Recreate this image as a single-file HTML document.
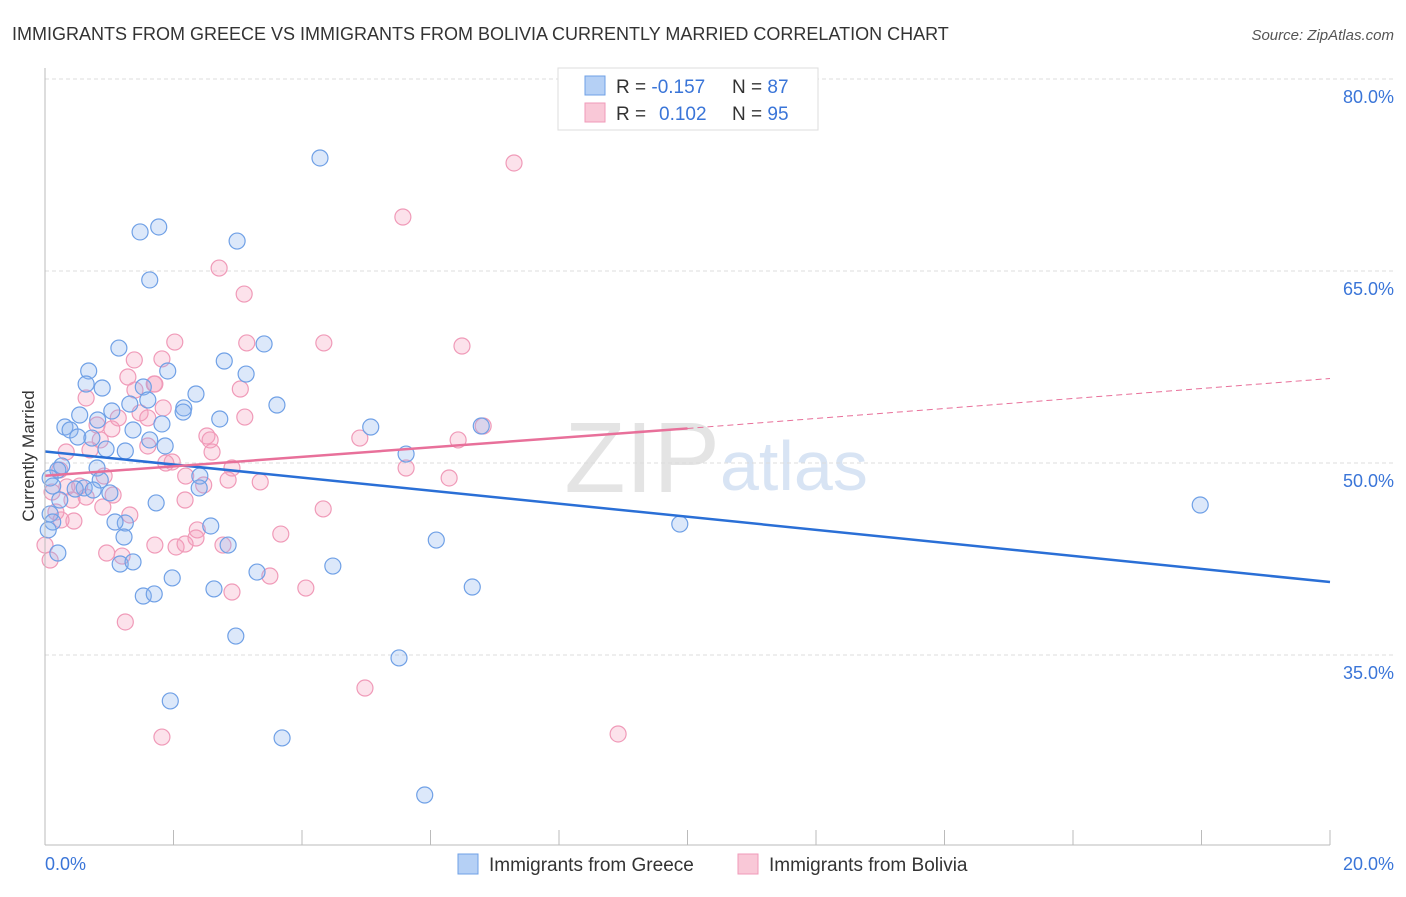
<!DOCTYPE html>
<html><head><meta charset="utf-8"><style>
body{margin:0;background:#fff;font-family:"Liberation Sans",sans-serif;}
svg text{font-family:"Liberation Sans",sans-serif;}
</style></head><body>
<svg id="c" width="1406" height="892" xmlns="http://www.w3.org/2000/svg">
<text x="12" y="40" font-size="18" fill="#333">IMMIGRANTS FROM GREECE VS IMMIGRANTS FROM BOLIVIA CURRENTLY MARRIED CORRELATION CHART</text>
<text x="1394" y="40" font-size="15" fill="#555" font-style="italic" text-anchor="end">Source: ZipAtlas.com</text>
<text x="34" y="456" font-size="17" fill="#333" text-anchor="middle" transform="rotate(-90 34 456)">Currently Married</text>
<text x="720" y="492" font-size="100" fill="#e4e4e4" text-anchor="end" font-family="Liberation Serif">ZIP</text>
<text x="720" y="490" font-size="70" fill="#d8e4f4">atlas</text>
<g id="grid"></g><g id="pts"></g><g id="lines"></g>
<line x1="45" y1="68" x2="45" y2="845" stroke="#bbb"/>
<line x1="45" y1="845" x2="1330" y2="845" stroke="#bbb"/>
<text x="45" y="870" font-size="18" fill="#3a75d8">0.0%</text>
<text x="1394" y="870" font-size="18" fill="#3a75d8" text-anchor="end">20.0%</text>
<g>
<rect x="558" y="68" width="260" height="62" fill="#fff" stroke="#ddd"/>
<rect x="585" y="76" width="20" height="19" fill="#b5d0f5" stroke="#6fa0e6"/>
<rect x="585" y="103" width="20" height="19" fill="#f9c8d7" stroke="#f09ab8"/>
<text x="616" y="93" font-size="19" fill="#333">R = <tspan fill="#3a75d8">-0.157</tspan><tspan x="732">N = </tspan><tspan fill="#3a75d8">87</tspan></text>
<text x="616" y="120" font-size="19" fill="#333">R = <tspan x="659" fill="#3a75d8">0.102</tspan><tspan x="732">N = </tspan><tspan fill="#3a75d8">95</tspan></text>
</g>
<g>
<rect x="458" y="854" width="20" height="20" fill="#b5d0f5" stroke="#6fa0e6"/>
<text x="489" y="871" font-size="19" fill="#333">Immigrants from Greece</text>
<rect x="738" y="854" width="20" height="20" fill="#f9c8d7" stroke="#f09ab8"/>
<text x="769" y="871" font-size="19" fill="#333">Immigrants from Bolivia</text>
</g>
</svg>
<script>
const yTicks=[80,65,50,35];
const xTicks=[0,2,4,6,8,10,12,14,16,18,20];
const bluePx=[[320,158],[159,227],[140,232],[237,241],[150,280],[119,348],[264,344],[224,361],[89,371],[86,384],[246,374],[168,371],[102,388],[143,387],[196,394],[277,405],[112,411],[130,404],[184,408],[148,400],[80,415],[65,427],[70,430],[98,420],[183,412],[220,419],[162,424],[371,427],[133,430],[78,437],[92,438],[150,440],[106,449],[125,451],[165,446],[406,454],[62,466],[97,468],[58,470],[50,478],[84,488],[100,480],[110,493],[200,476],[199,488],[53,486],[75,489],[93,490],[60,500],[50,514],[53,522],[125,523],[115,522],[211,526],[680,524],[1200,505],[58,553],[124,537],[228,545],[436,540],[333,566],[120,564],[257,572],[133,562],[172,578],[214,589],[472,587],[143,596],[154,594],[236,636],[399,658],[170,701],[282,738],[425,795],[48,530],[156,503],[481,426]];
const pinkPx=[[514,163],[403,217],[219,268],[244,294],[175,342],[247,343],[324,343],[462,346],[134,360],[162,359],[128,377],[154,384],[86,398],[240,389],[155,384],[118,418],[140,413],[245,417],[163,408],[97,425],[112,429],[360,438],[207,436],[458,440],[100,440],[90,450],[148,446],[212,452],[66,452],[172,462],[166,463],[406,468],[232,468],[260,482],[449,478],[204,485],[186,476],[67,487],[80,486],[86,497],[185,500],[113,495],[323,509],[52,492],[72,500],[56,512],[74,521],[130,515],[281,534],[197,530],[196,538],[223,545],[107,553],[122,556],[176,547],[185,544],[270,576],[306,588],[232,592],[155,545],[125,622],[365,688],[618,734],[162,737],[45,545],[50,560],[135,390],[60,470],[148,418],[104,476],[228,480],[483,426],[61,520],[103,507],[210,440]];
// convert to data values (x %, y %)
const greeceX=bluePx.map(p=>+((p[0]-45)/64.25).toFixed(2));
const greeceY=bluePx.map(p=>+(80-(p[1]-79)/12.8).toFixed(2));
const boliviaX=pinkPx.map(p=>+((p[0]-45)/64.25).toFixed(2));
const boliviaY=pinkPx.map(p=>+(80-(p[1]-79)/12.8).toFixed(2));
const greeceTrend=[50.9,40.7];
const boliviaTrend=[49.0,52.7,56.6];
const NS="http://www.w3.org/2000/svg";
const sx=v=>45+v*64.25, sy=v=>79+(80-v)*12.8;
function mk(t,a,p){const e=document.createElementNS(NS,t);for(const k in a)e.setAttribute(k,a[k]);p.appendChild(e);return e;}
const grid=document.getElementById('grid');
yTicks.forEach(v=>{
 const l=mk('line',{x1:45,x2:1394,y1:sy(v),y2:sy(v),stroke:'#ddd','stroke-dasharray':'4,3'},grid);
 
 
 const t=mk('text',{x:1394,y:sy(v)+24,'font-size':18,fill:'#3a75d8','text-anchor':'end'},grid);
 t.textContent=v.toFixed(1)+'%';
 
 
});
xTicks.forEach(v=>{
 const l=mk('line',{x1:sx(v),x2:sx(v),y1:830,y2:845,stroke:'#bbb'},grid);
 
 
});
const pts=document.getElementById('pts');
boliviaX.forEach((x,i)=>{
 const c=mk('circle',{cx:sx(x),cy:sy(boliviaY[i]),r:8,fill:'rgba(245,160,190,0.3)',stroke:'#f09ab8','stroke-width':1.2},pts);
 
 
});
greeceX.forEach((x,i)=>{
 const c=mk('circle',{cx:sx(x),cy:sy(greeceY[i]),r:8,fill:'rgba(140,180,240,0.3)',stroke:'#6fa0e6','stroke-width':1.2},pts);
 
 
});
const ln=document.getElementById('lines');
let a=mk('line',{x1:sx(0),y1:sy(greeceTrend[0]),x2:sx(20),y2:sy(greeceTrend[1]),stroke:'#2a6fd6','stroke-width':2.5},ln);


a=mk('line',{x1:sx(0),y1:sy(boliviaTrend[0]),x2:sx(10),y2:sy(boliviaTrend[1]),stroke:'#e8709a','stroke-width':2.5},ln);


a=mk('line',{x1:sx(10),y1:sy(boliviaTrend[1]),x2:sx(20),y2:sy(boliviaTrend[2]),stroke:'#e8709a','stroke-width':1,'stroke-dasharray':'6,4'},ln);


</script>
</body></html>
